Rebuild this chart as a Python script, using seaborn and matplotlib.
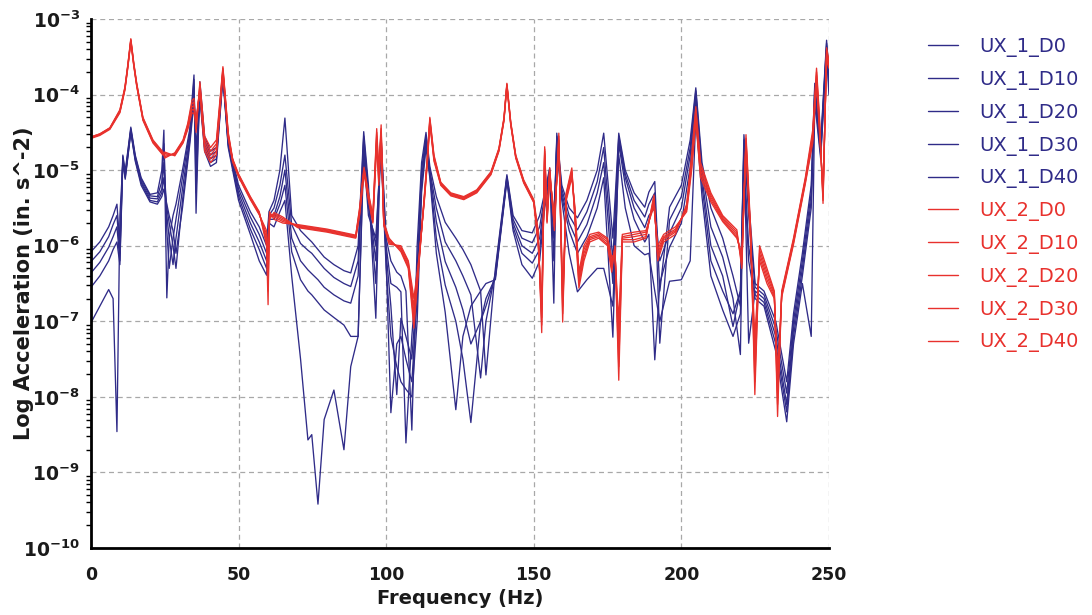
import numpy as np
import pandas as pd
import matplotlib
matplotlib.use("Agg")
import matplotlib.pyplot as plt
import seaborn as sns
from matplotlib.ticker import FixedLocator, FuncFormatter, LogLocator, NullFormatter
from matplotlib.lines import Line2D

# ---------------------------------------------------------------------------
# Frequency response data, values are log10 of acceleration (in. s^-2)
# ---------------------------------------------------------------------------
freq_ux1 = [
    0, 3, 6, 7.5, 8.8, 9.8, 10.8, 11.6, 13.5, 15,
    17, 20, 22.5, 24, 24.7, 25.7, 26.5, 27.8, 28.8, 31,
    33.5, 34.9, 35.6, 36.9, 38.5, 40.5, 42.5, 44.7, 46.5, 50,
    54, 57, 59.5, 60.3, 62, 64, 65.7, 68, 71, 73.5,
    74.8, 76.9, 79, 82.3, 85.7, 88, 90.5, 92.4, 94, 96.5,
    98.2, 100, 101.6, 103.6, 105, 106.7, 108.7, 110.5, 112, 113.5,
    114.8, 117, 120, 123.6, 126, 128.7, 132, 133.8, 137, 140.9,
    143, 146, 149.5, 152, 153.7, 155.4, 156.8, 157.8, 159.5, 162,
    164.8, 168, 171.5, 173.7, 176.8, 178.8, 181, 184, 187.6, 189,
    191, 192.7, 196, 200, 203, 204.9, 207, 210, 214, 217.5,
    220, 221.2, 222.8, 225, 228, 232, 235.7, 238, 241, 244,
    245.2, 247.2, 249.2, 250,
]

ux1_d0 = [
    -6.08, -5.95, -5.75, -5.60, -5.45, -6.00, -4.80, -5.02, -4.43, -4.80,
    -5.10, -5.32, -5.30, -5.00, -4.47, -6.69, -5.90, -5.60, -5.45, -5.00,
    -4.45, -3.74, -5.57, -3.83, -4.55, -4.75, -4.70, -3.70, -4.60, -5.20,
    -5.55, -5.75, -6.00, -5.55, -5.40, -5.00, -4.31, -5.60, -5.80, -5.90,
    -5.95, -6.05, -6.15, -6.25, -6.33, -6.36, -6.00, -4.49, -5.20, -6.96,
    -4.50, -5.90, -6.20, -6.35, -6.40, -6.60, -8.44, -6.00, -4.90, -4.50,
    -4.95, -5.35, -5.69, -5.90, -6.05, -6.25, -6.60, -7.71, -6.30, -5.06,
    -5.60, -5.80, -5.83, -5.60, -5.30, -4.97, -6.76, -4.51, -5.20, -5.50,
    -5.63, -5.40, -5.00, -4.51, -5.90, -4.51, -5.00, -5.30, -5.49, -5.29,
    -5.15, -6.60, -5.49, -5.20, -4.60, -3.91, -4.90, -5.50, -5.90, -6.40,
    -6.80, -4.53, -5.40, -6.50, -6.60, -7.00, -7.80, -6.90, -6.10, -5.20,
    -3.85, -4.64, -3.28, -3.70,
]

ux1_d10 = [
    -6.21, -6.08, -5.88, -5.72, -5.60, -6.10, -4.82, -5.05, -4.45, -4.82,
    -5.12, -5.34, -5.35, -5.15, -4.65, -5.80, -6.30, -5.90, -5.65, -5.10,
    -4.50, -3.80, -5.30, -3.90, -4.60, -4.80, -4.75, -3.72, -4.62, -5.25,
    -5.62, -5.85, -6.10, -5.60, -5.50, -5.20, -4.80, -5.72, -5.97, -6.06,
    -6.10, -6.20, -6.30, -6.42, -6.50, -6.54, -6.20, -4.55, -5.30, -6.50,
    -4.55, -6.00, -6.50, -6.55, -6.61, -8.61, -7.20, -6.30, -5.00, -4.55,
    -5.00, -5.50, -5.95, -6.20, -6.40, -6.65, -7.75, -7.00, -6.35, -5.08,
    -5.65, -5.90, -5.96, -5.75, -5.35, -5.00, -6.20, -4.55, -5.25, -5.60,
    -5.79, -5.55, -5.15, -4.70, -6.20, -4.55, -5.05, -5.40, -5.62, -5.45,
    -5.30, -7.29, -5.66, -5.35, -4.70, -3.95, -5.00, -5.75, -6.15, -6.70,
    -7.44, -4.60, -5.60, -6.55, -6.65, -7.10, -7.95, -7.00, -6.20, -5.30,
    -3.90, -4.70, -3.32, -3.75,
]

ux1_d20 = [
    -6.36, -6.22, -6.02, -5.88, -5.75, -6.20, -4.85, -5.08, -4.47, -4.84,
    -5.15, -5.37, -5.38, -5.25, -4.90, -5.60, -5.90, -6.25, -5.90, -5.25,
    -4.55, -3.90, -5.00, -3.95, -4.65, -4.85, -4.80, -3.74, -4.65, -5.30,
    -5.70, -5.95, -6.20, -5.62, -5.60, -5.35, -5.00, -5.90, -6.20, -6.32,
    -6.37, -6.45, -6.55, -6.65, -6.73, -6.76, -6.40, -4.60, -5.40, -6.20,
    -4.60, -6.10, -6.80, -7.97, -6.96, -7.20, -7.50, -6.50, -5.10, -4.60,
    -5.03, -5.68, -6.21, -6.55, -6.85, -7.30, -7.00, -6.80, -6.40, -5.10,
    -5.70, -6.00, -6.10, -5.90, -5.40, -5.05, -5.90, -4.60, -5.30, -5.70,
    -5.95, -5.72, -5.30, -4.90, -6.50, -4.60, -5.10, -5.50, -5.76, -5.60,
    -5.50, -6.20, -5.83, -5.50, -4.80, -4.00, -5.10, -6.00, -6.40, -7.07,
    -6.60, -4.70, -7.29, -6.60, -6.70, -7.20, -8.10, -7.10, -6.30, -5.40,
    -3.95, -4.75, -3.36, -3.80,
]

ux1_d30 = [
    -6.55, -6.40, -6.20, -6.05, -5.95, -6.25, -4.88, -5.10, -4.49, -4.86,
    -5.17, -5.40, -5.42, -5.30, -5.10, -5.50, -5.70, -6.00, -6.30, -5.40,
    -4.60, -4.00, -4.80, -4.00, -4.70, -4.90, -4.85, -3.76, -4.67, -5.35,
    -5.78, -6.05, -6.30, -5.65, -5.65, -5.45, -5.20, -6.08, -6.45, -6.60,
    -6.65, -6.75, -6.85, -6.95, -7.05, -7.20, -7.20, -4.70, -5.50, -6.00,
    -4.65, -6.20, -8.21, -7.30, -7.20, -7.50, -7.80, -6.70, -5.20, -4.65,
    -5.06, -5.90, -6.52, -7.00, -7.50, -8.34, -7.00, -6.70, -6.42, -5.12,
    -5.75, -6.10, -6.23, -6.05, -5.45, -5.10, -5.70, -4.65, -5.35, -5.80,
    -6.10, -5.88, -5.50, -5.10, -7.21, -4.65, -5.20, -5.65, -5.95, -5.85,
    -7.51, -6.50, -6.02, -5.70, -4.95, -4.10, -5.20, -6.20, -6.60, -6.90,
    -6.60, -4.80, -6.00, -6.65, -6.75, -7.30, -8.20, -7.20, -6.40, -5.50,
    -4.00, -4.80, -3.40, -3.90,
]

ux1_d40 = [
    -7.02, -6.80, -6.58, -6.70, -8.46, -5.60, -4.90, -5.12, -4.50, -4.88,
    -5.20, -5.42, -5.45, -5.35, -5.25, -5.45, -5.60, -5.80, -6.10, -5.50,
    -4.65, -4.10, -4.70, -4.05, -4.75, -4.95, -4.90, -3.78, -4.70, -5.40,
    -5.85, -6.20, -6.39, -5.70, -5.75, -5.55, -5.40, -6.40, -7.50, -8.57,
    -8.50, -9.42, -8.30, -7.91, -8.70, -7.60, -7.20, -4.80, -5.60, -5.90,
    -4.70, -6.30, -7.20, -7.60, -7.80, -7.90, -8.00, -7.00, -5.30, -4.70,
    -5.10, -6.10, -6.88, -8.17, -7.20, -6.80, -6.60, -6.50, -6.45, -5.14,
    -5.80, -6.25, -6.43, -6.20, -5.50, -5.15, -5.60, -4.70, -5.40, -6.10,
    -6.61, -6.45, -6.30, -6.30, -6.80, -4.80, -5.50, -6.00, -6.12, -6.10,
    -6.60, -7.00, -6.47, -6.45, -6.20, -4.30, -5.35, -6.40, -6.85, -7.20,
    -6.90, -5.00, -6.20, -6.70, -6.80, -7.40, -8.33, -7.30, -6.50, -7.20,
    -4.10, -4.85, -3.45, -4.00,
]

freq_ux2 = [
    0, 3, 6.4, 9.8, 11.5, 12.5, 13.5, 14.5, 15.5, 17.6,
    21, 24.4, 25, 28.4, 31.2, 32.8, 34.2,
    34.9, 35.6, 36.9, 38.5, 40.5, 42.5, 44.7,
    46.5, 48, 50, 54, 57, 59.5, 60.0, 60.5, 62, 65,
    70, 80, 89.7, 91, 92.5, 94, 95.5, 96.8, 97.5, 98.3,
    99.2, 101, 105, 107.5, 109.4,
    111, 113, 114, 114.8, 116.2, 118.5, 121.9, 126.3, 130.7, 135.5,
    138.2, 139.9, 140.9, 142.2, 143.9, 146.6, 150, 151.5,
    152.7, 153.7, 154.5, 155.4, 157, 158.5, 159.8, 161, 162.9, 164,
    165.3, 167, 169, 172, 175, 176.4, 177.5, 178.8, 180, 184,
    188, 190.7, 192, 194, 198, 201.8, 203.5, 204.9, 206.5, 210,
    214, 218.8, 220.5, 221.9, 223.5, 224.9, 226.5, 229, 231.5, 232.6,
    234, 238, 242, 244.5, 245.8, 246.8, 248, 249.2, 250,
]

ux2_d0 = [
    -4.56, -4.52, -4.44, -4.20, -3.90, -3.60, -3.26, -3.58, -3.85, -4.30,
    -4.60, -4.76, -4.84, -4.77, -4.60, -4.38, -4.08,
    -4.05, -4.50, -3.83, -4.55, -4.70, -4.60, -3.63,
    -4.50, -4.85, -5.05, -5.35, -5.55, -6.00, -6.78, -5.55, -5.65, -5.70,
    -5.72, -5.78, -5.86, -5.50, -4.96, -5.30, -5.60, -4.45, -5.00, -4.40,
    -5.69, -5.90, -6.08, -6.30, -7.09,
    -6.30, -5.30, -4.80, -4.30, -4.80, -5.16, -5.30, -5.35, -5.26, -5.02,
    -4.71, -4.31, -3.85, -4.36, -4.80, -5.13, -5.39, -5.80,
    -7.15, -4.69, -5.60, -4.97, -5.80, -4.51, -7.01, -5.30, -4.97, -5.70,
    -6.56, -6.20, -5.95, -5.90, -6.00, -6.35, -6.00, -7.78, -5.95, -5.95,
    -5.90, -5.33, -6.20, -5.95, -5.85, -5.45, -4.80, -4.16, -4.90, -5.30,
    -5.60, -5.79, -6.30, -4.53, -5.80, -7.97, -6.00, -6.30, -6.60, -8.26,
    -6.60, -5.90, -5.10, -4.47, -3.65, -4.30, -5.44, -3.38, -3.55,
]

ux2_d10 = [
    -4.56, -4.52, -4.44, -4.21, -3.91, -3.61, -3.27, -3.59, -3.86, -4.31,
    -4.61, -4.77, -4.82, -4.78, -4.61, -4.40, -4.12,
    -4.10, -4.45, -3.86, -4.60, -4.75, -4.65, -3.65,
    -4.52, -4.86, -5.06, -5.36, -5.56, -5.95, -6.60, -5.58, -5.62, -5.68,
    -5.73, -5.79, -5.87, -5.52, -4.98, -5.32, -5.62, -4.50, -5.05, -4.45,
    -5.70, -5.92, -6.06, -6.28, -7.00,
    -6.28, -5.32, -4.82, -4.32, -4.82, -5.17, -5.31, -5.36, -5.27, -5.03,
    -4.72, -4.32, -3.86, -4.37, -4.81, -5.14, -5.40, -5.85,
    -7.05, -4.72, -5.62, -5.00, -5.75, -4.55, -6.90, -5.32, -5.00, -5.65,
    -6.50, -6.15, -5.92, -5.88, -5.98, -6.30, -6.02, -7.60, -5.92, -5.92,
    -5.88, -5.36, -6.15, -5.92, -5.82, -5.48, -4.85, -4.20, -4.95, -5.33,
    -5.62, -5.82, -6.25, -4.58, -5.85, -7.80, -6.05, -6.35, -6.62, -8.10,
    -6.62, -5.92, -5.12, -4.52, -3.70, -4.35, -5.40, -3.42, -3.58,
]

ux2_d20 = [
    -4.57, -4.53, -4.45, -4.22, -3.92, -3.62, -3.28, -3.60, -3.87, -4.32,
    -4.62, -4.78, -4.80, -4.79, -4.62, -4.42, -4.16,
    -4.15, -4.40, -3.90, -4.65, -4.80, -4.70, -3.67,
    -4.54, -4.87, -5.07, -5.37, -5.57, -5.90, -6.45, -5.60, -5.60, -5.66,
    -5.74, -5.80, -5.88, -5.55, -5.00, -5.35, -5.65, -4.55, -5.10, -4.50,
    -5.71, -5.94, -6.04, -6.25, -6.90,
    -6.25, -5.34, -4.84, -4.34, -4.84, -5.18, -5.32, -5.37, -5.28, -5.04,
    -4.73, -4.33, -3.87, -4.38, -4.82, -5.15, -5.41, -5.90,
    -6.95, -4.75, -5.65, -5.03, -5.70, -4.60, -6.80, -5.35, -5.03, -5.60,
    -6.45, -6.10, -5.90, -5.86, -5.95, -6.25, -6.05, -7.40, -5.90, -5.88,
    -5.85, -5.40, -6.10, -5.90, -5.80, -5.50, -4.90, -4.25, -5.00, -5.36,
    -5.64, -5.85, -6.20, -4.62, -5.90, -7.60, -6.10, -6.40, -6.65, -7.95,
    -6.64, -5.94, -5.14, -4.56, -3.75, -4.40, -5.35, -3.46, -3.60,
]

ux2_d30 = [
    -4.57, -4.53, -4.45, -4.23, -3.93, -3.63, -3.29, -3.61, -3.88, -4.33,
    -4.63, -4.79, -4.78, -4.80, -4.63, -4.44, -4.20,
    -4.20, -4.36, -3.93, -4.70, -4.85, -4.75, -3.69,
    -4.56, -4.88, -5.08, -5.38, -5.58, -5.85, -6.30, -5.62, -5.58, -5.64,
    -5.75, -5.81, -5.89, -5.58, -5.02, -5.38, -5.68, -4.60, -5.15, -4.55,
    -5.72, -5.96, -6.02, -6.22, -6.80,
    -6.22, -5.36, -4.86, -4.36, -4.86, -5.19, -5.33, -5.38, -5.29, -5.05,
    -4.74, -4.34, -3.88, -4.39, -4.83, -5.16, -5.42, -5.95,
    -6.85, -4.78, -5.68, -5.06, -5.65, -4.65, -6.70, -5.38, -5.06, -5.55,
    -6.40, -6.05, -5.88, -5.84, -5.92, -6.20, -6.08, -7.20, -5.88, -5.85,
    -5.82, -5.44, -6.05, -5.88, -5.78, -5.52, -4.95, -4.30, -5.05, -5.39,
    -5.66, -5.88, -6.15, -4.66, -5.95, -7.40, -6.15, -6.45, -6.68, -7.80,
    -6.66, -5.96, -5.16, -4.60, -3.80, -4.45, -5.30, -3.50, -3.62,
]

ux2_d40 = [
    -4.58, -4.54, -4.46, -4.24, -3.94, -3.64, -3.30, -3.62, -3.89, -4.34,
    -4.64, -4.80, -4.76, -4.81, -4.64, -4.46, -4.24,
    -4.25, -4.32, -3.96, -4.75, -4.90, -4.80, -3.71,
    -4.58, -4.89, -5.09, -5.39, -5.59, -5.80, -6.15, -5.65, -5.56, -5.62,
    -5.76, -5.82, -5.90, -5.60, -5.04, -5.40, -5.70, -4.65, -5.20, -4.60,
    -5.73, -5.98, -6.00, -6.20, -6.70,
    -6.20, -5.38, -4.88, -4.38, -4.88, -5.20, -5.34, -5.39, -5.30, -5.06,
    -4.75, -4.35, -3.89, -4.40, -4.84, -5.17, -5.43, -6.00,
    -6.75, -4.80, -5.70, -5.10, -5.60, -4.70, -6.60, -5.40, -5.10, -5.50,
    -6.35, -6.00, -5.85, -5.82, -5.90, -6.15, -6.10, -7.00, -5.85, -5.82,
    -5.80, -5.48, -6.00, -5.85, -5.75, -5.55, -5.00, -4.35, -5.10, -5.42,
    -5.68, -5.90, -6.10, -4.70, -6.00, -7.20, -6.20, -6.50, -6.70, -7.65,
    -6.68, -5.98, -5.18, -4.64, -3.85, -4.50, -5.25, -3.54, -3.65,
]

series_names = [
    "UX_1_D0", "UX_1_D10", "UX_1_D20", "UX_1_D30", "UX_1_D40",
    "UX_2_D0", "UX_2_D10", "UX_2_D20", "UX_2_D30", "UX_2_D40",
]
series_freq = [freq_ux1] * 5 + [freq_ux2] * 5
series_log = [ux1_d0, ux1_d10, ux1_d20, ux1_d30, ux1_d40,
              ux2_d0, ux2_d10, ux2_d20, ux2_d30, ux2_d40]

BLUE = "#2f2b88"
RED = "#e8312d"
palette = {name: (BLUE if name.startswith("UX_1") else RED) for name in series_names}

frames = []
for name, f, v in zip(series_names, series_freq, series_log):
    frames.append(pd.DataFrame({
        "Frequency": f,
        "Acceleration": 10.0 ** np.asarray(v, dtype=float),
        "Series": name,
    }))
df = pd.concat(frames, ignore_index=True)

# ---------------------------------------------------------------------------
sns.set_style("white")
plt.rcParams["font.family"] = ["DejaVu Sans"]
plt.rcParams["mathtext.fontset"] = "dejavusans"
plt.rcParams["text.color"] = "#1a1a1a"
plt.rcParams["axes.labelcolor"] = "#1a1a1a"

fig = plt.figure(figsize=(10.92, 6.15), dpi=100)
ax = fig.add_axes([0.0833, 0.109, 0.6758, 0.860])

sns.lineplot(data=df, x="Frequency", y="Acceleration", hue="Series",
             hue_order=series_names, palette=palette, estimator=None,
             sort=False, linewidth=0.95, legend=False, ax=ax)

ax.set_yscale("log")
ax.set_xlim(0, 250)
ax.set_ylim(1e-10, 1e-3)

ax.xaxis.set_major_locator(FixedLocator([0, 50, 100, 150, 200, 250]))
ax.yaxis.set_major_locator(FixedLocator([10.0 ** k for k in range(-10, -2)]))
ax.yaxis.set_minor_locator(LogLocator(base=10, subs=np.arange(2, 10), numticks=20))
ax.yaxis.set_minor_formatter(NullFormatter())
ax.yaxis.set_major_formatter(
    FuncFormatter(lambda y, _: r"$\mathbf{10^{%d}}$" % int(round(np.log10(y)))))

ax.grid(True, which="major", color="#a8a8a8", linestyle=(0, (4, 3)), linewidth=0.9)
ax.set_axisbelow(True)

for side in ("top", "right"):
    ax.spines[side].set_visible(False)
for side in ("left", "bottom"):
    ax.spines[side].set_color("black")
    ax.spines[side].set_linewidth(2.0)

ax.tick_params(axis="x", which="major", direction="out", length=6, width=1.5,
               colors="black", labelcolor="#1a1a1a", labelsize=12.5, pad=7)
ax.tick_params(axis="y", which="major", direction="out", length=6, width=1.5,
               colors="black", labelcolor="#1a1a1a", labelsize=13.5, pad=2)
ax.tick_params(axis="y", which="minor", direction="out", length=3.5, width=1.0,
               colors="black", left=True)
for lab in ax.get_xticklabels():
    lab.set_fontweight("bold")

ax.set_xlabel("Frequency (Hz)", fontsize=14, fontweight="bold")
ax.set_ylabel("Log Acceleration (in. s^-2)", fontsize=15, fontweight="bold")
ax.xaxis.set_label_coords(0.5, -0.078)
ax.yaxis.set_label_coords(-0.077, 0.5)

handles = [Line2D([0], [0], color=palette[n], linewidth=1.0) for n in series_names]
fig.legend(handles, series_names, loc="upper left",
           bbox_to_anchor=(928 / 1092, 1 - 37 / 615), frameon=False,
           fontsize=14, handlelength=1.55, handletextpad=1.1,
           labelspacing=0.66, borderpad=0, borderaxespad=0,
           labelcolor=[palette[n] for n in series_names])

fig.savefig("out.png", dpi=100)
